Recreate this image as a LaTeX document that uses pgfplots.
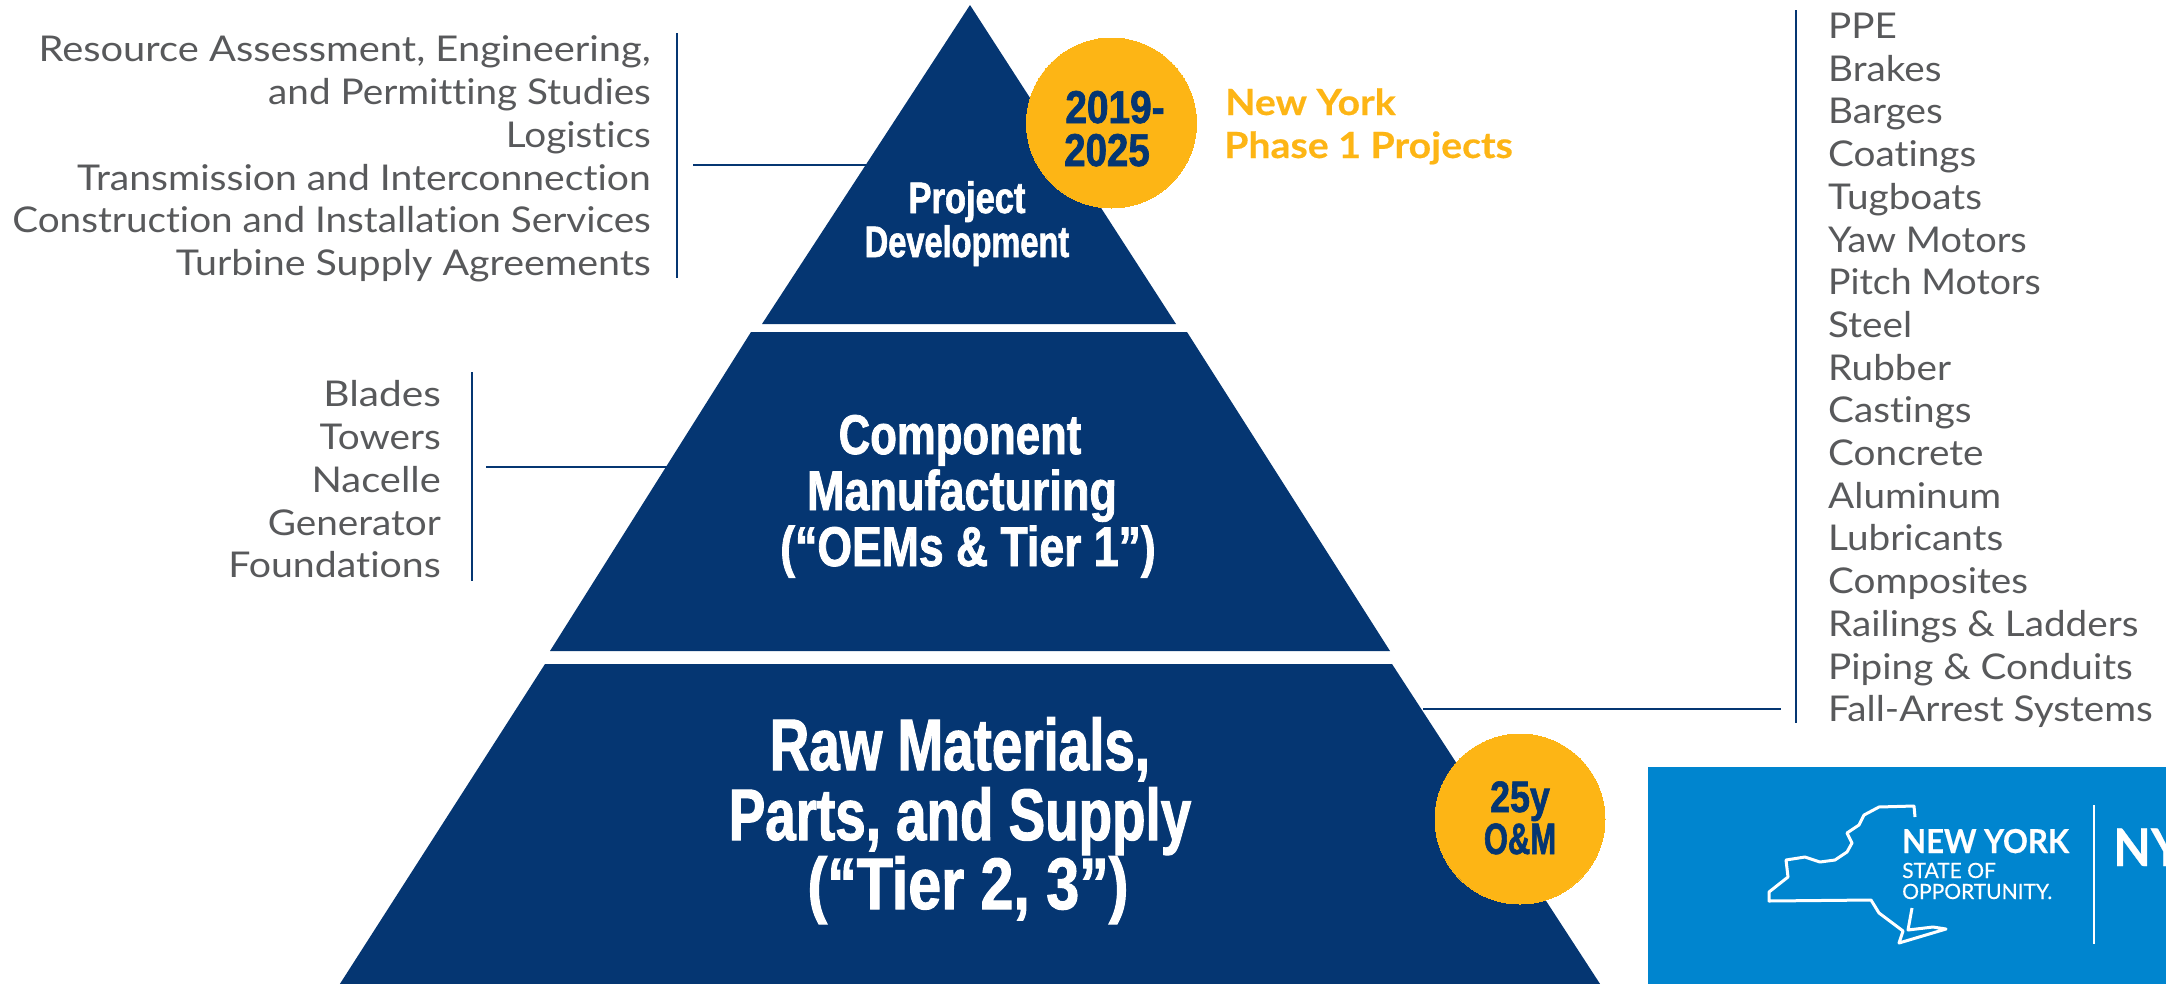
\documentclass[border=0pt]{standalone}
\usepackage{pgfplots}
\pgfplotsset{compat=1.18}
\usepackage{fontspec}
\setmainfont[FakeStretch=1.09,Ligatures=NoCommon]{Lato}
\newfontfamily\hda[FakeStretch=0.74,FakeBold=1.4]{Liberation Sans}
\newfontfamily\hdb[FakeStretch=0.78,FakeBold=1.4]{Liberation Sans}
\newfontfamily\hdc[FakeStretch=0.75,FakeBold=1.4]{Liberation Sans}
\newfontfamily\gld[FakeStretch=1.09,FakeBold=0.4]{Lato}
\newfontfamily\nyt[FakeStretch=0.94,FakeBold=0.4]{Lato}
\newfontfamily\nys[Ligatures=NoCommon,FakeBold=0.3]{Lato}
\definecolor{navy}{HTML}{053672}
\definecolor{gold}{HTML}{FDB515}
\definecolor{nyblue}{HTML}{0085CF}
\definecolor{txt}{HTML}{58595B}
\pgfplotsset{base/.style={at={(0,0)},anchor=south west,
  scale only axis,width=2166pt,height=983pt,
  xmin=0,xmax=2166,ymin=0,ymax=983,y dir=reverse,
  hide axis,clip=false}}
\newcommand{\bt}[3]{\node[anchor=#1,inner sep=0pt,text=txt,font=\fontsize{35.5}{40}\selectfont] at (axis cs:#2) {#3};}
\newcommand{\hl}[4]{\node[anchor=base,inner sep=0pt,text=#1,font=\fontsize{#3}{#3}\selectfont\bfseries] at (axis cs:#2) {#4};}
\newcommand{\sx}[2]{\scalebox{#1}[1]{#2}}
\begin{document}
\begin{tikzpicture}
\clip[use as bounding box] (0,0) rectangle (2166pt,983pt);
\begin{axis}[base]
% pyramid
\addplot[fill=navy,draw=none] coordinates {(970,5)(1176,324)(762,324)} -- cycle;
\addplot[fill=navy,draw=none] coordinates {(751,332)(1187,332)(1390,651)(550,651)} -- cycle;
\addplot[fill=navy,draw=none] coordinates {(545,664)(1392,664)(1604,990)(336,990)} -- cycle;
% connectors
\addplot[navy,line width=1.5pt] coordinates {(677,33)(677,278)};
\addplot[navy,line width=1.5pt] coordinates {(693,165)(866,165)};
\addplot[navy,line width=1.5pt] coordinates {(472,372)(472,581)};
\addplot[navy,line width=1.5pt] coordinates {(486,467)(670,467)};
\addplot[navy,line width=1.5pt] coordinates {(1796,10)(1796,723)};
\addplot[navy,line width=1.5pt] coordinates {(1423,709)(1781,709)};
% circles
\addplot[only marks,mark=*,mark size=85pt,mark options={fill=gold,draw=gold,line width=0pt}] coordinates {(1111.5,123)};
\addplot[only marks,mark=*,mark size=85pt,mark options={fill=gold,draw=gold,line width=0pt}] coordinates {(1520,819)};
% logo box
\addplot[fill=nyblue,draw=none] coordinates {(1648,767)(2170,767)(2170,990)(1648,990)} -- cycle;
\addplot[white,line width=3pt,line join=round] coordinates {
(1915,817)(1914,806)(1879,807)(1864,815)(1859,825)(1847,833)(1852,843)(1847,852)(1835,860)(1820,862)(1805,857)(1786,860)(1788,877)(1769,892)(1769,901)(1871,900)(1879,913)(1903,931)(1899,943)(1946,929)(1933,927)(1908,930)(1912,908)};
\addplot[white,line width=2.5pt] coordinates {(2094,805)(2094,944)};
\end{axis}
\begin{axis}[base]
% left text
\bt{base east}{651,61}{\sx{1.03}{Resource Assessment, Engineering,}}
\bt{base east}{651,104}{and Permitting Studies}
\bt{base east}{651,147}{Logistics}
\bt{base east}{651,190}{\sx{1.01}{Transmission and Interconnection}}
\bt{base east}{651,232}{Construction and Installation Services}
\bt{base east}{651,275}{\sx{1.018}{Turbine Supply Agreements}}
\bt{base east}{441,406}{\sx{1.05}{Blades}}
\bt{base east}{441,449}{Towers}
\bt{base east}{441,492}{\sx{1.03}{Nacelle}}
\bt{base east}{441,535}{Generator}
\bt{base east}{441,577}{\sx{1.015}{Foundations}}
% right text
\bt{base west}{1828,38}{PPE}
\bt{base west}{1828,81}{Brakes}
\bt{base west}{1828,123}{Barges}
\bt{base west}{1828,166}{Coatings}
\bt{base west}{1828,209}{Tugboats}
\bt{base west}{1828,252}{\sx{0.98}{Yaw Motors}}
\bt{base west}{1828,294}{\sx{0.968}{Pitch Motors}}
\bt{base west}{1828,337}{Steel}
\bt{base west}{1828,380}{Rubber}
\bt{base west}{1828,422}{Castings}
\bt{base west}{1828,465}{Concrete}
\bt{base west}{1828,508}{Aluminum}
\bt{base west}{1828,550}{Lubricants}
\bt{base west}{1828,593}{Composites}
\bt{base west}{1828,636}{Railings \& Ladders}
\bt{base west}{1828,679}{Piping \& Conduits}
\bt{base west}{1828,721}{Fall-Arrest Systems}
% pyramid headings
\hl{white}{967,213}{44}{\sx{1.06}{\hda Project}}
\hl{white}{967,257}{44}{\hda Development}
\hl{white}{960,454}{56}{\hdb Component}
\hl{white}{962,510}{56}{\sx{1.03}{\hdb Manufacturing}}
\hl{white}{968,566}{56}{\sx{1.02}{\hdb (“OEMs \& Tier 1”)}}
\hl{white}{960,770}{73}{\hdc Raw Materials,}
\hl{white}{960,840}{73}{\hdc Parts, and Supply}
\hl{white}{968,909}{73}{\sx{1.08}{\hdc (“Tier 2, 3”)}}
% circle text
\hl{navy}{1115,123}{46}{\sx{1.14}{\hda 2019-}}
\hl{navy}{1107,166}{46}{\sx{1.13}{\hda 2025}}
\hl{navy}{1520,812}{44}{\sx{1.1}{\hda 25y}}
\hl{navy}{1520,854}{44}{\sx{0.95}{\hda O\&M}}
% phase
\node[anchor=base west,inner sep=0pt,text=gold,font=\fontsize{36}{40}\selectfont\gld\bfseries] at (axis cs:1225,115) {New York};
\node[anchor=base west,inner sep=0pt,text=gold,font=\fontsize{36}{40}\selectfont\gld\bfseries] at (axis cs:1224,158) {Phase 1 Projects};
% logo text
\node[anchor=base west,inner sep=0pt,text=white,font=\fontsize{33}{36}\selectfont\nyt\bfseries] at (axis cs:1902,853) {NEW YORK};
\node[anchor=base west,inner sep=0pt,text=white,font=\fontsize{21}{24}\selectfont\nys] at (axis cs:1902,878) {STATE OF};
\node[anchor=base west,inner sep=0pt,text=white,font=\fontsize{21}{24}\selectfont\nys] at (axis cs:1902,899) {OPPORTUNITY.};
\node[anchor=base west,inner sep=0pt,text=white,font=\fontsize{52}{56}\selectfont\nyt\bfseries] at (axis cs:2113,866) {NY};
\end{axis}
\end{tikzpicture}
\end{document}
